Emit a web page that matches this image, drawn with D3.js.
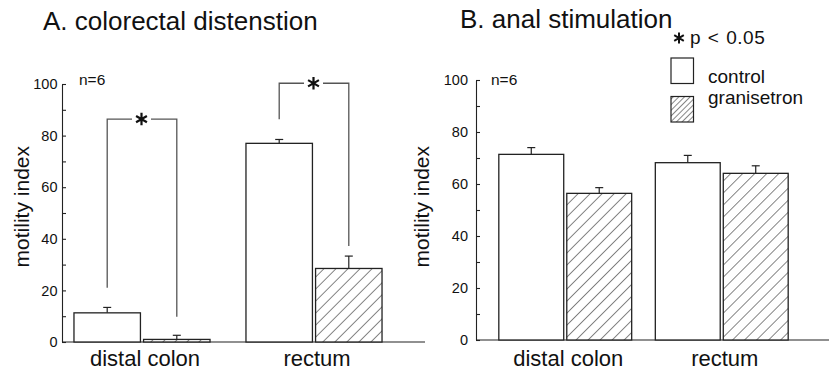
<!DOCTYPE html>
<html>
<head>
<meta charset="utf-8">
<script src="https://cdn.jsdelivr.net/npm/d3@7"></script>
<style>
  body { margin: 0; background: #fff; }
  svg { display: block; font-family: "Liberation Sans", Arial, sans-serif; }
</style>
</head>
<body>
<svg id="chart" width="829" height="372"></svg>
<script>
'use strict';

// values (mean and SEM, motility index)
var groups = ["distal colon", "rectum"];
var series = ["control", "granisetron"];
var yTicks = [0, 20, 40, 60, 80, 100];
var yMinor = [10, 30, 50, 70, 90];

var cdControl = [11.3, 77.0];
var cdControlSem = [2.1, 1.5];
var cdGran = [1.0, 28.5];
var cdGranSem = [1.6, 4.8];

var asControl = [71.4, 68.2];
var asControlSem = [2.6, 2.8];
var asGran = [56.4, 64.1];
var asGranSem = [2.2, 2.9];

// significance brackets for panel A: bracket top, left foot, right foot
var sigTop = [86.4, 100.3];
var sigLeft = [21.0, 86.3];
var sigRight = [9.8, 37.2];

var svg = d3.select('#chart');

var defs = svg.append('defs');
function hatch(id, gap) {
  var p = defs.append('pattern')
    .attr('id', id)
    .attr('patternUnits', 'userSpaceOnUse')
    .attr('width', gap).attr('height', gap)
    .attr('patternTransform', 'rotate(45)');
  p.append('rect').attr('width', gap).attr('height', gap).attr('fill', '#fff');
  p.append('line')
    .attr('x1', 0).attr('y1', 0).attr('x2', 0).attr('y2', gap)
    .attr('stroke', '#222').attr('stroke-width', 1.1);
}
hatch('hatchBar', 8.5);
hatch('hatchKey', 4);

var panels = [
  {
    title: "A. colorectal distenstion", titleX: 43, titleY: 30,
    axisX: 62, y0: 342, y100: 84, xRange: [56, 400], pad: 0.209, axisEnd: 425,
    labelX: 28.5, tickPad: 4.5, nX: 79,
    vals: [cdControl, cdGran], sems: [cdControlSem, cdGranSem], sig: true
  },
  {
    title: "B. anal stimulation", titleX: 460, titleY: 28,
    axisX: 476, y0: 340, y100: 80, xRange: [487, 800], pad: 0.151, axisEnd: 829,
    labelX: 429, tickPad: 8, nX: 491,
    vals: [asControl, asGran], sems: [asControlSem, asGranSem], sig: false
  }
];

panels.forEach(function(p) {
  var g = svg.append('g');

  var y = d3.scaleLinear().domain([0, 100]).range([p.y0, p.y100]);
  var x = d3.scaleBand().domain(groups).range(p.xRange).paddingInner(p.pad).paddingOuter(p.pad / 2);
  var xs = d3.scaleBand().domain(series).range([0, x.bandwidth()]).paddingInner(0.045);

  g.append('text')
    .attr('x', p.titleX).attr('y', p.titleY)
    .attr('font-size', 26).attr('fill', '#111')
    .text(p.title);

  // y axis, ticks pointing inward
  var axis = d3.axisLeft(y)
    .tickValues(yTicks.concat(yMinor).sort(d3.ascending))
    .tickFormat(function(d) { return yTicks.indexOf(d) >= 0 ? d : ''; })
    .tickSizeInner(-4).tickSizeOuter(0).tickPadding(p.tickPad);
  var ax = g.append('g').attr('transform', 'translate(' + p.axisX + ',0)').call(axis);
  ax.attr('font-size', 14.5).attr('font-family', null);
  ax.selectAll('text').attr('fill', '#111');
  ax.selectAll('line, path').attr('stroke', '#222').attr('stroke-width', 1.1);

  g.append('line')
    .attr('x1', p.axisX).attr('x2', p.axisEnd)
    .attr('y1', y(0)).attr('y2', y(0))
    .attr('stroke', '#222').attr('stroke-width', 1.2);

  g.append('text')
    .attr('transform', 'translate(' + p.labelX + ',206.7) rotate(-90)')
    .attr('text-anchor', 'middle').attr('font-size', 21).attr('fill', '#111')
    .text('motility index');

  g.append('text')
    .attr('x', p.nX).attr('y', 85)
    .attr('font-size', 15.5).attr('fill', '#111')
    .text('n=6');

  g.selectAll('.cat').data(groups).join('text')
    .attr('class', 'cat')
    .attr('x', function(d) { return x(d) + x.bandwidth() / 2 + 3; })
    .attr('y', 366)
    .attr('text-anchor', 'middle').attr('font-size', 22).attr('fill', '#111')
    .text(function(d) { return d; });

  var bars = [];
  groups.forEach(function(grp, gi) {
    series.forEach(function(s, si) {
      bars.push({ grp: grp, s: s, si: si, v: p.vals[si][gi], e: p.sems[si][gi] });
    });
  });

  var bar = g.selectAll('.bar').data(bars).join('g').attr('class', 'bar')
    .attr('transform', function(d) { return 'translate(' + (x(d.grp) + xs(d.s)) + ',0)'; });

  bar.append('line')
    .attr('x1', xs.bandwidth() / 2).attr('x2', xs.bandwidth() / 2)
    .attr('y1', function(d) { return y(d.v); })
    .attr('y2', function(d) { return y(d.v + d.e); })
    .attr('stroke', '#222').attr('stroke-width', 1.2);
  bar.append('line')
    .attr('x1', xs.bandwidth() / 2 - 4).attr('x2', xs.bandwidth() / 2 + 4)
    .attr('y1', function(d) { return y(d.v + d.e); })
    .attr('y2', function(d) { return y(d.v + d.e); })
    .attr('stroke', '#222').attr('stroke-width', 1.2);
  bar.append('rect')
    .attr('y', function(d) { return y(d.v); })
    .attr('width', xs.bandwidth())
    .attr('height', function(d) { return y(0) - y(d.v); })
    .attr('fill', function(d) { return d.si ? 'url(#hatchBar)' : '#fff'; })
    .attr('stroke', '#222').attr('stroke-width', 1.3);

  if (p.sig) {
    groups.forEach(function(grp, gi) {
      var xl = x(grp) + xs('control') + xs.bandwidth() / 2;
      var xr = x(grp) + xs('granisetron') + xs.bandwidth() / 2;
      var xm = (xl + xr) / 2;
      var yt = y(sigTop[gi]);
      var path = d3.path();
      path.moveTo(xl, y(sigLeft[gi])); path.lineTo(xl, yt); path.lineTo(xm - 10, yt);
      path.moveTo(xm + 9, yt); path.lineTo(xr, yt); path.lineTo(xr, y(sigRight[gi]));
      g.append('path').attr('d', path.toString())
        .attr('fill', 'none').attr('stroke', '#555').attr('stroke-width', 1.3);
      g.append('path')
        .attr('d', d3.symbol(d3.symbolAsterisk, 110)())
        .attr('transform', 'translate(' + (xm - 0.5) + ',' + yt + ')')
        .attr('fill', 'none').attr('stroke', '#111').attr('stroke-width', 2.2);
    });
  }
});

// legend
var key = svg.append('g');
key.append('path')
  .attr('d', d3.symbol(d3.symbolAsterisk, 86)())
  .attr('transform', 'translate(679,38)')
  .attr('fill', 'none').attr('stroke', '#111').attr('stroke-width', 2);
key.append('text')
  .attr('x', 690).attr('y', 44)
  .attr('font-size', 19).attr('fill', '#111')
  .attr('letter-spacing', 0.5).attr('word-spacing', 1)
  .text('p < 0.05');

key.selectAll('rect').data(series).join('rect')
  .attr('x', 671).attr('y', function(d, i) { return 58 + i * 38.5; })
  .attr('width', 22.5).attr('height', 25.5)
  .attr('fill', function(d, i) { return i ? 'url(#hatchKey)' : '#fff'; })
  .attr('stroke', '#222').attr('stroke-width', 1.2);
key.selectAll('.lab').data(series).join('text')
  .attr('class', 'lab')
  .attr('x', 708).attr('y', function(d, i) { return 83 + i * 21; })
  .attr('font-size', 19).attr('fill', '#111')
  .text(function(d) { return d; });
</script>
</body>
</html>
